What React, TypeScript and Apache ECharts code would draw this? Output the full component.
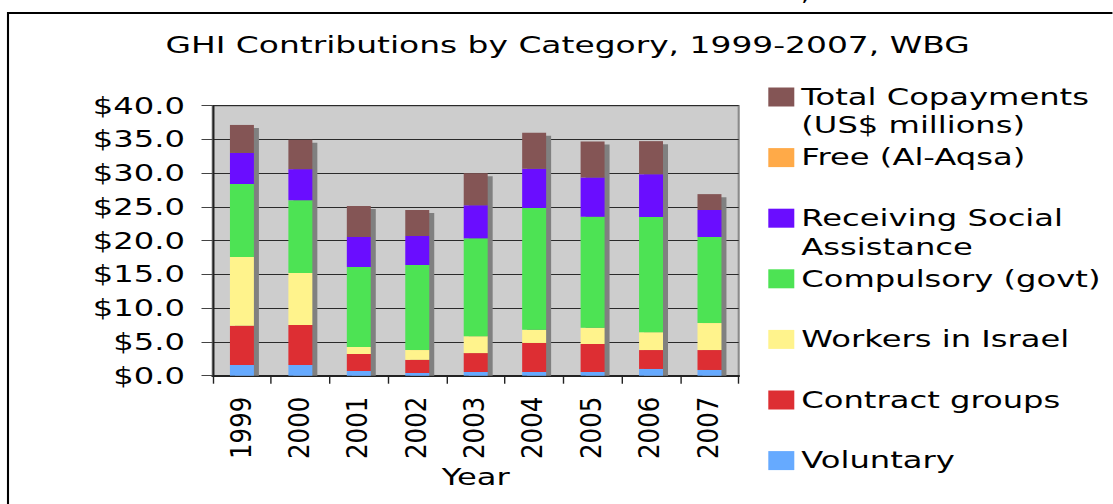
import React, { useEffect, useRef } from "react";
import * as echarts from "echarts";

// ---- Data (US$ millions) ----
const years = ["1999", "2000", "2001", "2002", "2003", "2004", "2005", "2006", "2007"];
const voluntary = [1.6, 1.6, 0.7, 0.4, 0.55, 0.55, 0.55, 1.0, 0.85];
const contractGroups = [5.8, 5.9, 2.5, 1.95, 2.8, 4.3, 4.15, 2.8, 2.95];
const workersInIsrael = [10.2, 7.7, 1.05, 1.45, 2.5, 1.95, 2.4, 2.65, 4.0];
const compulsoryGovt = [10.8, 10.8, 11.85, 12.6, 14.5, 18.05, 16.45, 17.05, 12.75];
const receivingSocialAssistance = [4.6, 4.6, 4.45, 4.3, 4.9, 5.8, 5.8, 6.35, 4.0];
const freeAlAqsa = [0, 0, 0, 0, 0, 0, 0, 0, 0];
const totalCopayments = [4.15, 4.35, 4.6, 3.85, 4.75, 5.35, 5.35, 4.9, 2.35];
const yTicks = [0, 5, 10, 15, 20, 25, 30, 35, 40];

const chartTitle = "GHI Contributions by Category, 1999-2007, WBG";
const xAxisName = "Year";

// stack order, bottom to top
const seriesDefs = [
  { name: "Voluntary", data: voluntary },
  { name: "Contract groups", data: contractGroups },
  { name: "Workers in Israel", data: workersInIsrael },
  { name: "Compulsory (govt)", data: compulsoryGovt },
  { name: "Receiving Social Assistance", data: receivingSocialAssistance },
  { name: "Free (Al-Aqsa)", data: freeAlAqsa },
  { name: "Total Copayments (US$ millions)", data: totalCopayments },
];

const palette: Record<string, string> = {
  "Voluntary": "#66aaff",
  "Contract groups": "#dd2e33",
  "Workers in Israel": "#fff38c",
  "Compulsory (govt)": "#4de354",
  "Receiving Social Assistance": "#6a0dff",
  "Free (Al-Aqsa)": "#ffaa48",
  "Total Copayments (US$ millions)": "#845555",
};

const legendLabels: Record<string, string[]> = {
  "Total Copayments (US$ millions)": ["Total Copayments", "(US$ millions)"],
  "Receiving Social Assistance": ["Receiving Social", "Assistance"],
};

const FONT = "'DejaVu Sans', Verdana, sans-serif";
const SX = 1.4; // horizontal stretch of the reference's horizontal texts
const SXL = 1.16; // horizontal stretch of the rotated year labels
const W = 1113;
const H = 504;
const LW = W / SX;
const LWL = W / SXL;

export default function App() {
  const mainRef = useRef<HTMLDivElement>(null);
  const overRef = useRef<HTMLDivElement>(null);

  useEffect(() => {
    const main = echarts.init(mainRef.current!, null, { renderer: "svg" });
    const over = echarts.init(overRef.current!, null, { renderer: "svg" });

    const plotL = 212.7;
    const plotR = 738.7;
    const gridTop = 105.7;
    const gridBottom = H - 375.7;

    const totals = years.map((_, i) => seriesDefs.reduce((s, d) => s + d.data[i], 0));
    const barRatio = 0.41;
    const shadowDx = 5 / SX;
    const shadowDy = 3;

    const legendOrder = [...seriesDefs].reverse();
    const LH = 28.5;
    const ICON_H = 19;
    const legends = legendOrder.map((d, i) => {
      const iconTop = 87.5 + i * 60.6;
      const lines = legendLabels[d.name];
      // two-line labels get a leading blank line so that their first line sits beside the icon
      const nLines = lines ? 3 : 1;
      const boxH = nLines * LH;
      return {
        show: true,
        orient: "vertical",
        left: 768.3 / SX,
        top: iconTop + ICON_H / 2 - boxH / 2,
        padding: 0,
        itemWidth: 26 / SX,
        itemHeight: ICON_H,
        icon: "rect",
        selectedMode: false,
        data: [d.name],
        formatter: (name: string) =>
          legendLabels[name] ? "\n" + legendLabels[name].join("\n") : name,
        textStyle: {
          fontFamily: FONT,
          fontSize: 23,
          lineHeight: LH,
          color: "#000",
        },
      };
    });

    main.setOption({
      animation: false,
      backgroundColor: "transparent",
      title: {
        text: chartTitle,
        left: 405.4,
        top: 33,
        textAlign: "center",
        padding: 0,
        textStyle: {
          fontFamily: FONT,
          fontSize: 23.5,
          fontWeight: "normal",
          color: "#000",
          lineHeight: 24,
        },
      },
      legend: legends,
      grid: {
        left: plotL / SX,
        right: LW - plotR / SX,
        top: gridTop,
        bottom: gridBottom,
        show: true,
        backgroundColor: "#cdcdcd",
        borderColor: "#8a8a8a",
        borderWidth: 1.5,
      },
      xAxis: {
        type: "category",
        data: years,
        name: xAxisName,
        nameLocation: "middle",
        nameGap: 90,
        nameTextStyle: { fontFamily: FONT, fontSize: 23, color: "#000", lineHeight: 23 },
        axisLine: { show: true, lineStyle: { color: "#222", width: 2 } },
        axisTick: { show: true, length: 8, lineStyle: { color: "#222", width: 1 } },
        axisLabel: { show: false },
        splitLine: { show: false },
      },
      yAxis: {
        type: "value",
        min: yTicks[0],
        max: yTicks[yTicks.length - 1],
        interval: yTicks[1] - yTicks[0],
        axisLine: { show: true, lineStyle: { color: "#222", width: 1.4 } },
        axisTick: { show: true, length: 8, lineStyle: { color: "#444", width: 1 } },
        axisLabel: {
          margin: 19.8,
          fontFamily: FONT,
          fontSize: 23,
          color: "#000",
          formatter: (v: number) => "$" + v.toFixed(1),
        },
        splitLine: { show: true, lineStyle: { color: "#2a2a2a", width: 1 } },
      },
      series: [
        {
          type: "custom",
          name: "shadow",
          z: 1,
          silent: true,
          encode: { x: 0, y: 1 },
          data: totals.map((t, i) => [i, t]),
          renderItem: (params: any, api: any) => {
            const idx = api.value(0);
            const total = api.value(1);
            const top = api.coord([idx, total]);
            const base = api.coord([idx, 0]);
            const bw = api.size([1, 0])[0] * barRatio;
            return {
              type: "rect",
              shape: {
                x: top[0] - bw / 2 + shadowDx,
                y: top[1] + shadowDy,
                width: bw,
                height: base[1] - top[1] - shadowDy,
              },
              style: { fill: "#808080" },
            };
          },
        },
        ...seriesDefs.map((d) => ({
          type: "bar",
          name: d.name,
          stack: "total",
          z: 2,
          barWidth: barRatio * 100 + "%",
          data: d.data,
          itemStyle: { color: palette[d.name] },
        })),
      ],
    });

    const labelShift = -1.5;
    over.setOption({
      animation: false,
      backgroundColor: "transparent",
      grid: {
        left: (plotL + labelShift) / SXL,
        right: LWL - (plotR + labelShift) / SXL,
        top: gridTop,
        bottom: gridBottom,
        show: false,
      },
      xAxis: {
        type: "category",
        data: years,
        axisLine: { show: false },
        axisTick: { show: false },
        axisLabel: {
          rotate: 90,
          margin: 21,
          fontFamily: FONT,
          fontSize: 24.5,
          color: "#000",
        },
        splitLine: { show: false },
      },
      yAxis: { type: "value", min: 0, max: 40, show: false },
      graphic: [
        {
          type: "rect",
          shape: { x: 8 / SXL, y: 13, width: 1400, height: 800 },
          style: { fill: "none", stroke: "#000", lineWidth: 1.8 },
          silent: true,
        },
        {
          type: "text",
          x: 801 / SXL,
          y: -8,
          style: { text: ",", fontFamily: FONT, fontSize: 23, fill: "#000", verticalAlign: "middle" },
          silent: true,
        },
      ],
      series: [],
    });

    return () => {
      main.dispose();
      over.dispose();
    };
  }, []);

  return (
    <div
      style={{
        position: "fixed",
        left: 0,
        top: 0,
        width: W,
        height: H,
        background: "#fff",
        overflow: "hidden",
      }}
    >
      <div
        ref={mainRef}
        style={{
          position: "absolute",
          left: 0,
          top: 0,
          width: LW,
          height: H,
          transform: `scaleX(${SX})`,
          transformOrigin: "0 0",
        }}
      />
      <div
        ref={overRef}
        style={{
          position: "absolute",
          left: 0,
          top: 0,
          width: LWL,
          height: H,
          pointerEvents: "none",
          transform: `scaleX(${SXL})`,
          transformOrigin: "0 0",
        }}
      />
    </div>
  );
}
